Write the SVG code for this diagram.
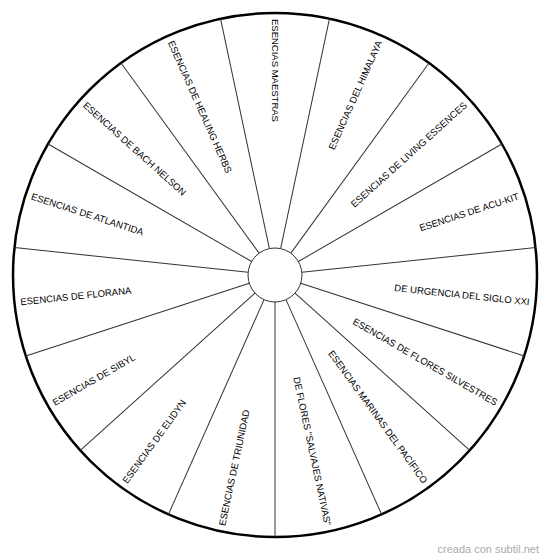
<svg xmlns="http://www.w3.org/2000/svg" width="550" height="560" viewBox="0 0 550 560">
<style>
.lbl{font-family:"Liberation Sans",Arial,sans-serif;font-size:9.5px;fill:#000;dominant-baseline:central}
.r{text-anchor:end}
.sp{stroke:#333;stroke-width:1;fill:none}
</style>
<rect width="550" height="560" fill="#fff"/>
<g id="wheel">
<circle cx="275" cy="275" r="262" fill="#fff" stroke="#000" stroke-width="2.5"/>
</g>
<g id="connectors">
<line class="sp" x1="275" y1="248" x2="275" y2="13" transform="rotate(12 275 275)"/>
<line class="sp" x1="275" y1="248" x2="275" y2="13" transform="rotate(36 275 275)"/>
<line class="sp" x1="275" y1="248" x2="275" y2="13" transform="rotate(60 275 275)"/>
<line class="sp" x1="275" y1="248" x2="275" y2="13" transform="rotate(84 275 275)"/>
<line class="sp" x1="275" y1="248" x2="275" y2="13" transform="rotate(108 275 275)"/>
<line class="sp" x1="275" y1="248" x2="275" y2="13" transform="rotate(132 275 275)"/>
<line class="sp" x1="275" y1="248" x2="275" y2="13" transform="rotate(156 275 275)"/>
<line class="sp" x1="275" y1="248" x2="275" y2="13" transform="rotate(180 275 275)"/>
<line class="sp" x1="275" y1="248" x2="275" y2="13" transform="rotate(204 275 275)"/>
<line class="sp" x1="275" y1="248" x2="275" y2="13" transform="rotate(228 275 275)"/>
<line class="sp" x1="275" y1="248" x2="275" y2="13" transform="rotate(252 275 275)"/>
<line class="sp" x1="275" y1="248" x2="275" y2="13" transform="rotate(276 275 275)"/>
<line class="sp" x1="275" y1="248" x2="275" y2="13" transform="rotate(300 275 275)"/>
<line class="sp" x1="275" y1="248" x2="275" y2="13" transform="rotate(324 275 275)"/>
<line class="sp" x1="275" y1="248" x2="275" y2="13" transform="rotate(348 275 275)"/>
</g>
<g id="hub">
<circle cx="275" cy="275" r="27" fill="#fff" stroke="#333" stroke-width="1"/>
</g>
<g id="maestras"><text class="lbl" x="19" y="275" transform="rotate(90 275 275)">ESENCIAS MAESTRAS</text></g>
<g id="himalaya"><text class="lbl r" x="531" y="275" transform="rotate(-66 275 275)">ESENCIAS DEL HIMALAYA</text></g>
<g id="living"><text class="lbl r" x="531" y="275" transform="rotate(-42 275 275)">ESENCIAS DE LIVING ESSENCES</text></g>
<g id="acukit"><text class="lbl r" x="531" y="275" transform="rotate(-18 275 275)">ESENCIAS DE ACU-KIT</text></g>
<g id="urgencia"><text class="lbl r" x="531" y="275" transform="rotate(6 275 275)">DE URGENCIA DEL SIGLO XXI</text></g>
<g id="silvestres"><text class="lbl r" x="531" y="275" transform="rotate(30 275 275)">ESENCIAS DE FLORES SILVESTRES</text></g>
<g id="marinas"><text class="lbl r" x="531" y="275" transform="rotate(54 275 275)">ESENCIAS MARINAS DEL PACÍFICO</text></g>
<g id="salvajes"><text class="lbl r" x="531" y="275" transform="rotate(78 275 275)">DE FLORES "SALVAJES NATIVAS"</text></g>
<g id="triunidad"><text class="lbl" x="19" y="275" transform="rotate(-78 275 275)">ESENCIAS DE TRIUNIDAD</text></g>
<g id="elidyn"><text class="lbl" x="19" y="275" transform="rotate(-54 275 275)">ESENCIAS DE ELIDYN</text></g>
<g id="sibyl"><text class="lbl" x="19" y="275" transform="rotate(-30 275 275)">ESENCIAS DE SIBYL</text></g>
<g id="florana"><text class="lbl" x="19" y="275" transform="rotate(-6 275 275)">ESENCIAS DE FLORANA</text></g>
<g id="atlantida"><text class="lbl" x="19" y="275" transform="rotate(18 275 275)">ESENCIAS DE ATLANTIDA</text></g>
<g id="bach"><text class="lbl" x="19" y="275" transform="rotate(42 275 275)">ESENCIAS DE BACH NELSON</text></g>
<g id="healing"><text class="lbl" x="19" y="275" transform="rotate(66 275 275)">ESENCIAS DE HEALING HERBS</text></g>
<text x="539" y="553" text-anchor="end" style="font-family:'Liberation Sans',Arial,sans-serif;font-size:11px;fill:#aaa">creada con subtil.net</text>
</svg>
